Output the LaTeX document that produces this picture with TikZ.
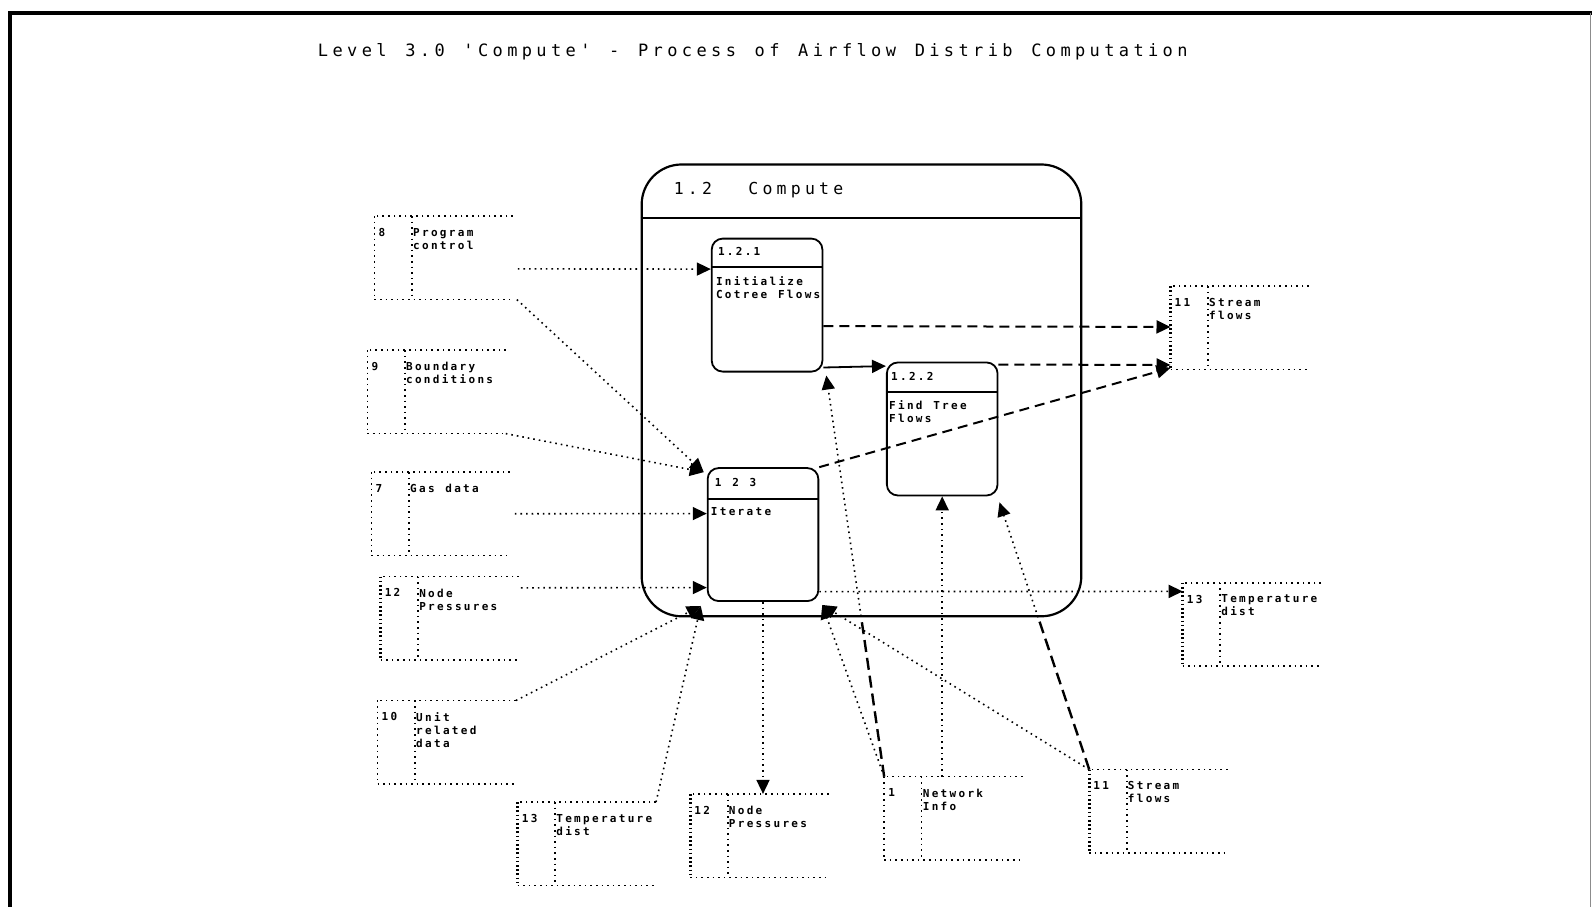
\documentclass[tikz,border=0pt]{standalone}
\usepackage{fontspec}
\usetikzlibrary{arrows.meta}
% plotter-like fixed-pitch lettering (spaces widened to keep the pitch)
\newfontfamily\plotthin[LetterSpace=25.7,WordSpace=1.28]{DejaVu Sans Mono}
\newfontfamily\plotbold[LetterSpace=21,WordSpace=1.2]{DejaVu Sans Mono}

\tikzset{
  dotline/.style={line width=1.6pt, dash pattern=on 1.6pt off 4pt},
  dbldot/.style={line width=3.4pt, dash pattern=on 1.6pt off 2.6pt},
  dashline/.style={line width=2pt, dash pattern=on 10pt off 6pt},
  longdash/.style={line width=2.4pt, dash pattern=on 12pt off 6pt},
  tip/.style={-{Triangle[length=14pt,width=13pt]}},
  store/.style={rectangle, inner sep=0pt, minimum width=138pt, minimum height=83pt},
  proc/.style={draw, line width=1.8pt, rounded corners=11pt, minimum width=110.7pt,
    minimum height=133pt, inner sep=0pt},
  outerproc/.style={draw, line width=2.2pt, rounded corners=40pt, minimum width=439.6pt,
    minimum height=451.8pt, inner sep=0pt},
  smalltxt/.style={font=\plotbold\bfseries\fontsize{11}{13}\selectfont, inner sep=0pt, align=left},
  bigtxt/.style={font=\plotthin\fontsize{17}{20}\selectfont, inner sep=0pt},
  hdrtxt/.style={font=\plotthin\fontsize{16.5}{20}\selectfont, inner sep=0pt},
}

% open-ended data store: name, centre, id, label, style of the left edge
\newcommand\datastore[5]{%
  \node[store] (#1) at #2 {};
  \draw[dotline] (#1.north east) -- (#1.north west);
  \draw[#5] (#1.north west) -- (#1.south west);
  \draw[dotline] (#1.south west) -- (#1.south east);
  \draw[dotline] ([xshift=37.5pt]#1.north west) -- ([xshift=37.5pt]#1.south west);
  \node[smalltxt, anchor=north west] (#1-id) at ([xshift=4pt,yshift=-12pt]#1.north west) {#3};
  \node[smalltxt, anchor=north west] (#1-lab) at ([xshift=38.5pt,yshift=-12pt]#1.north west) {#4};
}

\begin{document}
\begin{tikzpicture}[x=1.0153pt, y=-1.0153pt]
\useasboundingbox (0,0) rectangle (1568,893);

% sheet border
\draw[line width=4pt] (10,893) -- (10,13) -- (1568,13);
\draw[line width=1.5pt, black!45] (1566.5,13) -- (1566.5,893);

\node[bigtxt, anchor=west] (title) at (313,51)
  {Level 3.0 'Compute' - Process of Airflow Distrib Computation};

% enclosing process 1.2
\node[outerproc] (p12) at (848.5,384.5) {};
\draw[line width=1.8pt] ([yshift=-55pt]p12.north west) -- ([yshift=-55pt]p12.north east);
\node[hdrtxt, anchor=west] (p12-title) at ([xshift=33pt,yshift=-27pt]p12.north west) {1.2\ \ Compute};

% sub-processes
\node[proc] (p121) at (755.5,300.5) {};
\draw[line width=1.8pt] ([yshift=-29.5pt]p121.north west) -- ([yshift=-29.5pt]p121.north east);
\node[smalltxt, anchor=west] (p121-id) at ([xshift=7pt,yshift=-13.5pt]p121.north west) {1.2.1};
\node[smalltxt, anchor=north west] (p121-lab) at ([xshift=5pt,yshift=-39pt]p121.north west) {Initialize\\Cotree Flows};

\node[proc] (p122) at (928,422.5) {};
\draw[line width=1.8pt] ([yshift=-30.5pt]p122.north west) -- ([yshift=-30.5pt]p122.north east);
\node[smalltxt, anchor=west] (p122-id) at ([xshift=5pt,yshift=-14.5pt]p122.north west) {1.2.2};
\node[smalltxt, anchor=north west] (p122-lab) at ([xshift=3pt,yshift=-39pt]p122.north west) {Find Tree\\Flows};

\node[proc] (p123) at (751.5,526.5) {};
\draw[line width=1.8pt] ([yshift=-31.5pt]p123.north west) -- ([yshift=-31.5pt]p123.north east);
\node[smalltxt, anchor=west] (p123-id) at ([xshift=8pt,yshift=-15pt]p123.north west) {1 2 3};
\node[smalltxt, anchor=north west] (p123-lab) at ([xshift=4pt,yshift=-40pt]p123.north west) {Iterate};

% data stores
\datastore{s8}{(437,254)}{8}{Program\\control}{dotline}
\datastore{s9}{(430,386)}{9}{Boundary\\conditions}{dotline}
\datastore{s7}{(434,506)}{7}{Gas data}{dotline}
\datastore{s12l}{(443,609)}{12}{Node\\Pressures}{dbldot}
\datastore{s10}{(440,731)}{10}{Unit\\related\\data}{dotline}
\datastore{s13b}{(578,831)}{13}{Temperature\\dist}{dbldot}
\datastore{s12b}{(748,823)}{12}{Node\\Pressures}{dbldot}
\datastore{s1}{(939,806)}{1}{Network\\Info}{dotline}
\datastore{s11b}{(1141,799)}{11}{Stream\\flows}{dbldot}
\datastore{s11r}{(1221,323)}{11}{Stream\\flows}{dbldot}
\datastore{s13r}{(1233,615)}{13}{Temperature\\dist}{dbldot}

% flows into 1.2.1
\draw[dotline,tip] ([xshift=5pt,yshift=-11pt]s8.east) -- ([yshift=36pt]p121.west);
\path (s1.north west) -- coordinate[pos=0.4] (k1) ([xshift=3pt,yshift=-3pt]p121.south east);
\draw[longdash] (s1.north west) -- (k1);
\draw[dotline,tip] (k1) -- ([xshift=3pt,yshift=-3pt]p121.south east);

% flows into 1.2.3
\draw[dotline,tip] ([xshift=4pt]s8.south east) -- ([xshift=-3pt,yshift=-5pt]p123.north west);
\draw[dotline,tip] (s9.south east) -- ([xshift=-3pt,yshift=-5pt]p123.north west);
\draw[dotline,tip] ([xshift=5pt]s7.east) -- ([yshift=21pt]p123.west);
\draw[dotline,tip] ([xshift=2pt,yshift=30.5pt]s12l.east) -- ([yshift=-53pt]p123.west);
\draw[dotline,tip] (s10.north east) -- ([xshift=-6pt,yshift=-4pt]p123.south west);
\draw[dotline,tip] (s13b.north east) -- ([xshift=-6pt,yshift=-4pt]p123.south west);
\draw[dotline,tip] (s1.north west) -- ([xshift=3pt,yshift=-3pt]p123.south east);
\draw[dotline,tip] (s11b.north west) -- ([xshift=3pt,yshift=-3pt]p123.south east);

% flows into 1.2.2
\draw[line width=1.8pt,tip] ([yshift=5pt]p121.south east) -- ([yshift=-4.5pt]p122.north west);
\draw[dotline,tip] (p122.south |- s1.north) -- (p122.south);
\path (s11b.north west) -- coordinate[pos=0.57] (k2) ([xshift=1pt,yshift=-6pt]p122.south east);
\draw[longdash] (s11b.north west) -- (k2);
\draw[dotline,tip] (k2) -- ([xshift=1pt,yshift=-6pt]p122.south east);

% outputs
\draw[dotline,tip] (p123.south) -- (p123.south |- s12b.north);
\draw[dotline,tip] ([yshift=-57pt]p123.east) -- ([yshift=33pt]s13r.west);
\draw[dashline,tip] ([yshift=-21pt]p121.east) -- ([yshift=1pt]s11r.west);
\draw[dashline,tip] ([yshift=-3pt]p122.north east) -- ([yshift=-37pt]s11r.west);
\draw[dashline,tip] (p123.north east) -- ([yshift=-40pt]s11r.west);
\end{tikzpicture}
\end{document}
